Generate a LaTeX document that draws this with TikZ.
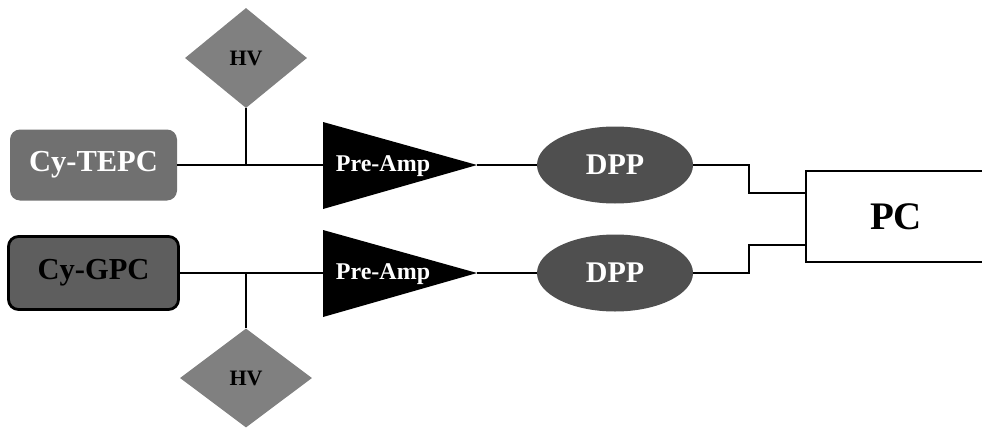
\documentclass[tikz,border=0pt]{standalone}
\usepackage{fontspec}
\setmainfont{Liberation Serif}
\usetikzlibrary{shapes.geometric}
\definecolor{hvgray}{gray}{0.50}
\definecolor{tepcgray}{gray}{0.44}
\definecolor{gpcgray}{gray}{0.37}
\definecolor{dppgray}{gray}{0.31}
\begin{document}
\begin{tikzpicture}[x=1pt,y=-1pt,
  conn/.style={line width=2.8pt, black},
  hvbox/.style={diamond, fill=hvgray, minimum width=122pt, minimum height=100pt, inner sep=0pt, font=\bfseries\fontsize{22}{22}\selectfont},
  detbox/.style={rounded corners=10pt, inner sep=0pt, font=\bfseries\fontsize{30.5}{30.5}\selectfont},
  dppbox/.style={ellipse, fill=dppgray, minimum width=156pt, minimum height=77pt, inner sep=0pt, text=white, font=\bfseries\fontsize{30}{30}\selectfont},
  ampshape/.style={fill=black},
  amptext/.style={text=white, inner sep=0pt, font=\bfseries\fontsize{24}{24}\selectfont},
  pcbox/.style={draw=black, line width=2.8pt, fill=white, minimum width=180pt, minimum height=91pt, inner sep=0pt, font=\bfseries\fontsize{39}{39}\selectfont}
]
\useasboundingbox (0,0) rectangle (982,428);
\clip (0,0) rectangle (982,428);

% detectors
\node[detbox, fill=tepcgray, text=white, minimum width=167pt, minimum height=71pt] (tepc) at (93.5,165) {Cy-TEPC};
\node[detbox, draw=black, line width=2.8pt, fill=gpcgray, text=black, minimum width=170pt, minimum height=73pt] (gpc) at (93.5,273) {Cy-GPC};

% HV supplies
\node[hvbox] (hv1) at (246,58) {HV};
\node[hvbox, minimum width=132pt, minimum height=99pt] (hv2) at (246,378) {HV};

% pre-amplifiers
\coordinate (pa1in) at (323,165);
\coordinate (pa1out) at (477,165);
\coordinate (pa2in) at (323,273);
\coordinate (pa2out) at (477,273);
\fill[ampshape] (323,122) -- (323,209) -- (pa1out) -- cycle;
\fill[ampshape] (323,230) -- (323,317) -- (pa2out) -- cycle;
\node[amptext] (pa1) at (383,166) {Pre-Amp};
\node[amptext] (pa2) at (383,274) {Pre-Amp};

% DPPs
\node[dppbox] (dpp1) at (615,165) {DPP};
\node[dppbox] (dpp2) at (615,273) {DPP};

% PC
\node[pcbox] (pc) at (896,216.5) {PC};

% junctions and bends
\coordinate (j1) at (246,165);
\coordinate (j2) at (246,273);
\coordinate (k) at (749,0);
\coordinate (pcin1) at (806,193);
\coordinate (pcin2) at (806,245);

% connectors
\draw[conn] (tepc.east) -- (pa1in);
\draw[conn] (hv1.south) -- (j1);
\draw[conn] (gpc.east) -- (pa2in);
\draw[conn] (hv2.north) -- (j2);
\draw[conn] (pa1out) -- (dpp1.west);
\draw[conn] (pa2out) -- (dpp2.west);
\draw[conn] (dpp1.east) -- (dpp1.east -| k) |- (pcin1);
\draw[conn] (dpp2.east) -- (dpp2.east -| k) |- (pcin2);
\end{tikzpicture}
\end{document}
